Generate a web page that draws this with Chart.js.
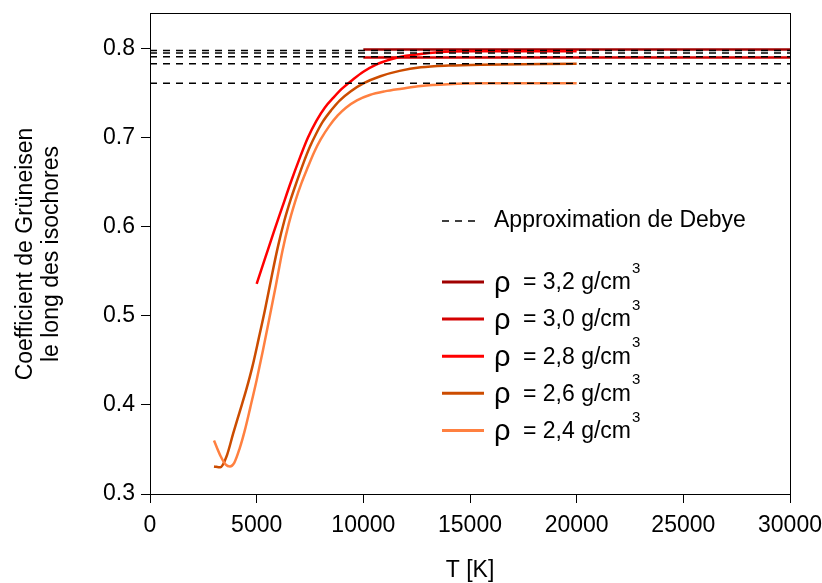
<!DOCTYPE html>
<html>
<head>
<meta charset="utf-8">
<script src="https://cdn.jsdelivr.net/npm/chart.js@4.4.1/dist/chart.umd.min.js"></script>
<style>
  body { margin: 0; background: #fff; }
  canvas { display: block; }
</style>
</head>
<body>
<canvas id="gruneisen" width="822" height="583"></canvas>
<script>
var FONT = '"Liberation Sans", Arial, sans-serif'

var xTicks = [0, 5000, 10000, 15000, 20000, 25000, 30000]
var yTicks = [0.3, 0.4, 0.5, 0.6, 0.7, 0.8]

var debyeLevels = [0.798, 0.795, 0.791, 0.783, 0.761]
var densities = ['3,2', '3,0', '2,8', '2,6', '2,4']
var colors = ['#a00000', '#d40000', '#ff0000', '#cc4c00', '#ff8040']

// isochores (T en K, gamma)
var T32 = [10000, 15000, 20000, 30000]
var G32 = [0.799, 0.799, 0.799, 0.799]

var T30 = [10000, 15000, 20000, 30000]
var G30 = [0.790, 0.790, 0.790, 0.790]

var T28 = [5000, 5400, 5800, 6200, 6600, 7000, 7400, 7800, 8200, 8600, 9000, 9500, 10000, 10600, 11300, 12000, 12700, 13500, 15000, 20000]
var G28 = [0.536, 0.565, 0.594, 0.622, 0.650, 0.676, 0.700, 0.719, 0.734, 0.745, 0.755, 0.765, 0.774, 0.782, 0.788, 0.792, 0.794, 0.796, 0.797, 0.797]

var T26 = [3000, 3300, 3600, 3900, 4200, 4500, 4800, 5100, 5400, 5700, 6000, 6300, 6600, 6900, 7200, 7500, 7800, 8100, 8500, 8900, 9400, 10000, 10800, 11700, 12700, 14000, 15500, 20000]
var G26 = [0.331, 0.330, 0.343, 0.368, 0.392, 0.416, 0.443, 0.475, 0.508, 0.544, 0.578, 0.607, 0.631, 0.652, 0.672, 0.690, 0.705, 0.718, 0.731, 0.742, 0.752, 0.761, 0.769, 0.775, 0.779, 0.781, 0.782, 0.783]

var T24 = [3000, 3300, 3550, 3750, 3950, 4200, 4450, 4700, 5000, 5300, 5600, 5900, 6200, 6500, 6800, 7100, 7400, 7700, 8000, 8400, 8800, 9200, 9700, 10300, 11000, 11800, 12700, 14000, 15500, 20000]
var G24 = [0.360, 0.343, 0.333, 0.331, 0.335, 0.351, 0.372, 0.397, 0.428, 0.462, 0.498, 0.534, 0.572, 0.603, 0.628, 0.649, 0.667, 0.684, 0.698, 0.713, 0.725, 0.734, 0.742, 0.748, 0.752, 0.755, 0.758, 0.760, 0.761, 0.761]

var curvesT = [T32, T30, T28, T26, T24]
var curvesG = [G32, G30, G28, G26, G24]

function toPoints(ts, gs) {
    return ts.map(function(t, i) { return {x: t, y: gs[i]} })
}

var datasets = []
debyeLevels.forEach(function(v) {
    datasets.push({
        label: 'Approximation de Debye',
        data: [{x: 0, y: v}, {x: 30000, y: v}],
        borderColor: '#000',
        borderWidth: 1.5,
        borderDash: [7, 6],
        order: 0,
        debye: true
    })
})
densities.forEach(function(d, i) {
    datasets.push({
        label: d,
        data: toPoints(curvesT[i], curvesG[i]),
        borderColor: colors[i],
        borderWidth: 2.5,
        cubicInterpolationMode: 'monotone',
        order: 1 + (densities.length - i)
    })
})

var framePlugin = {
    id: 'frame',
    afterDraw: function(chart) {
        var ctx = chart.ctx, a = chart.chartArea
        ctx.save()
        ctx.strokeStyle = '#000'
        ctx.lineWidth = 1
        ctx.strokeRect(Math.round(a.left) + 0.5, Math.round(a.top) + 0.5, Math.round(a.right - a.left), Math.round(a.bottom - a.top))

        ctx.fillStyle = '#000'
        ctx.font = '23px ' + FONT
        ctx.textAlign = 'center'
        ctx.textBaseline = 'middle'
        ctx.fillText('T [K]', 470, 571)

        ctx.translate(26, 254)
        ctx.rotate(-Math.PI / 2)
        ctx.fillText('Coefficient de Grüneisen', 0, 0)
        ctx.fillText('le long des isochores', 0, 26)
        ctx.restore()
    }
}

var legendPlugin = {
    id: 'customLegend',
    afterDraw: function(chart) {
        var ctx = chart.ctx
        ctx.save()
        ctx.fillStyle = '#000'
        ctx.textAlign = 'left'
        ctx.textBaseline = 'middle'

        ctx.strokeStyle = '#000'
        ctx.lineWidth = 1.5
        ctx.setLineDash([7, 6])
        ctx.beginPath()
        ctx.moveTo(442, 221)
        ctx.lineTo(481, 221)
        ctx.stroke()
        ctx.setLineDash([])
        ctx.font = '23px ' + FONT
        ctx.fillText('Approximation de Debye', 494, 221)

        var rows = chart.data.datasets.filter(function(ds) { return !ds.debye })
        rows.forEach(function(ds, i) {
            var y = 282 + i * 37.1
            ctx.strokeStyle = ds.borderColor
            ctx.lineWidth = 3
            ctx.beginPath()
            ctx.moveTo(442, y)
            ctx.lineTo(484, y)
            ctx.stroke()

            ctx.font = '29px ' + FONT
            ctx.fillText('ρ', 494, y + 2)
            ctx.font = '23px ' + FONT
            var txt = '= ' + ds.label + ' g/cm'
            ctx.fillText(txt, 523, y + 1)
            var w = ctx.measureText(txt).width
            ctx.font = '15px ' + FONT
            ctx.fillText('3', 523 + w + 1, y - 13)
        })
        ctx.restore()
    }
}

function noPad(s) {
    s.paddingTop = 0
    s.paddingBottom = 0
    s.paddingLeft = 0
    s.paddingRight = 0
}

var ctx = document.getElementById('gruneisen').getContext('2d')
var myChart = new Chart(ctx, {
    type: 'line',
    data: {datasets: datasets},
    options: {
        responsive: false,
        animation: false,
        layout: {padding: {top: 13, right: 32, left: 0, bottom: 0}},
        elements: {point: {radius: 0}},
        plugins: {legend: {display: false}, tooltip: {enabled: false}},
        scales: {
            x: {
                type: 'linear',
                min: 0,
                max: 30000,
                afterBuildTicks: function(s) { s.ticks = xTicks.map(function(v) { return {value: v} }) },
                afterFit: function(s) { s.height = 89; noPad(s) },
                grid: {drawOnChartArea: false, tickLength: 9, color: '#000'},
                border: {color: '#000', width: 1},
                ticks: {color: '#000', font: {family: FONT, size: 23}, padding: 9, maxRotation: 0,
                    callback: function(v) { return String(v) }}
            },
            y: {
                type: 'linear',
                min: 0.3,
                max: 0.84,
                afterBuildTicks: function(s) { s.ticks = yTicks.map(function(v) { return {value: v} }) },
                afterFit: function(s) { s.width = 150; noPad(s) },
                grid: {drawOnChartArea: false, tickLength: 9, color: '#000'},
                border: {color: '#000', width: 1},
                ticks: {color: '#000', font: {family: FONT, size: 23}, padding: 6,
                    callback: function(v) { return v.toFixed(1) }}
            }
        }
    },
    plugins: [framePlugin, legendPlugin]
})
</script>
</body>
</html>
